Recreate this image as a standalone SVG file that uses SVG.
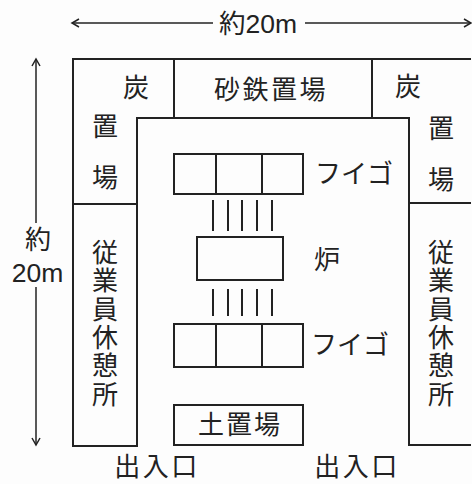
<svg xmlns="http://www.w3.org/2000/svg" width="472" height="484" viewBox="0 0 472 484">
<style>
.l{fill:none;stroke:#222;stroke-width:2}
.t{stroke-width:1.5}
text{font-family:"Noto Sans CJK JP","Liberation Sans",sans-serif;font-size:26px;fill:#222;text-anchor:middle}
.n{font-family:"Liberation Sans","Noto Sans CJK JP",sans-serif;font-size:26.5px}
.s{letter-spacing:2.5px}
.v{writing-mode:vertical-rl;text-anchor:start;letter-spacing:2.4px}
</style>
<defs>
<marker id="a" markerWidth="10" markerHeight="10" refX="8" refY="5" orient="auto" markerUnits="userSpaceOnUse"><path d="M1 1L8 5L1 9" fill="none" stroke="#222" stroke-width="1.5"/></marker>
</defs>
<rect width="472" height="484" fill="#fdfdfd"/>
<g id="connectors" class="l t">
<path d="M213 23H72" marker-end="url(#a)"/>
<path d="M305 23H471" marker-end="url(#a)"/>
<path d="M36 223V59" marker-end="url(#a)"/>
<path d="M36 287V445" marker-end="url(#a)"/>
</g>
<g id="building" class="l">
<path d="M471 59H73V446H137V118H409V445H471"/>
<path d="M174 59V118M372 59V118M73 204H137M409 203H471"/>
</g>
<g id="fuigo-top">
<g class="l"><rect x="174" y="154" width="129" height="40"/><path d="M216 154V194M262 154V194"/></g>
<text x="354" y="183">フイゴ</text>
</g>
<g id="pipes-top" class="l"><path d="M213 200V231M228 200V231M242 200V231M257 200V231M272 200V231"/></g>
<g id="furnace">
<rect class="l" x="197" y="237" width="86" height="43"/>
<text x="327" y="269">炉</text>
</g>
<g id="pipes-bottom" class="l"><path d="M213 289V316M228 289V316M242 289V316M257 289V316M272 289V316"/></g>
<g id="fuigo-bottom">
<g class="l"><rect x="174" y="324" width="129" height="43"/><path d="M216 324V367M262 324V367"/></g>
<text x="350" y="354">フイゴ</text>
</g>
<g id="soil">
<rect class="l" x="174" y="405" width="129" height="40"/>
<text x="240" y="434" class="s" style="letter-spacing:2px">土置場</text>
</g>
<g id="coal-left">
<text x="136" y="97">炭</text><text x="105" y="136">置</text><text x="105" y="187">場</text>
</g>
<g id="coal-right">
<text x="408" y="96">炭</text><text x="441" y="138">置</text><text x="441" y="189">場</text>
</g>
<g id="iron-sand"><text x="271" y="99" class="s">砂鉄置場</text></g>
<g id="rest-left"><text x="105" y="239" class="v">従業員休憩所</text></g>
<g id="rest-right"><text x="441" y="239" class="v">従業員休憩所</text></g>
<g id="dimensions">
<text x="258" y="33" class="n">約20m</text>
<text x="38" y="249">約</text>
<text x="37.5" y="282" class="n">20m</text>
</g>
<g id="entrances">
<text x="157" y="476" style="letter-spacing:2.5px">出入口</text>
<text x="357" y="476" style="letter-spacing:2.5px">出入口</text>
</g>
</svg>
